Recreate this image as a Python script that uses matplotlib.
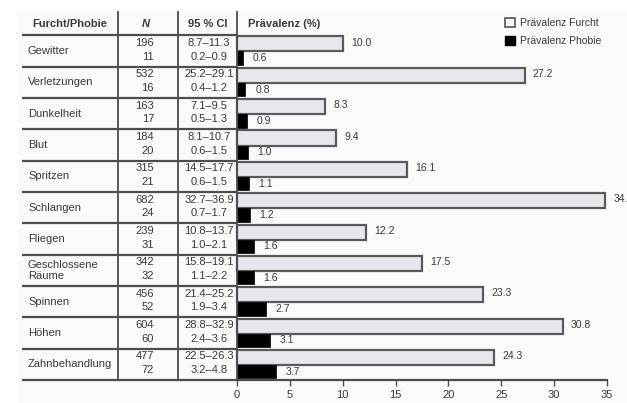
import matplotlib.pyplot as plt
from matplotlib.patches import Patch, Rectangle

# Prevalence of fears and phobias, with sample sizes and confidence intervals
categories = ['Gewitter', 'Verletzungen', 'Dunkelheit', 'Blut', 'Spritzen',
              'Schlangen', 'Fliegen', 'Geschlossene\nRäume', 'Spinnen',
              'Höhen', 'Zahnbehandlung']
n_fear = [196, 532, 163, 184, 315, 682, 239, 342, 456, 604, 477]
n_phobia = [11, 16, 17, 20, 21, 24, 31, 32, 52, 60, 72]
ci_fear = ['8.7–11.3', '25.2–29.1', '7.1–9.5', '8.1–10.7', '14.5–17.7',
           '32.7–36.9', '10.8–13.7', '15.8–19.1', '21.4–25.2', '28.8–32.9',
           '22.5–26.3']
ci_phobia = ['0.2–0.9', '0.4–1.2', '0.5–1.3', '0.6–1.5', '0.6–1.5',
             '0.7–1.7', '1.0–2.1', '1.1–2.2', '1.9–3.4', '2.4–3.6', '3.2–4.8']
prev_fear = [10.0, 27.2, 8.3, 9.4, 16.1, 34.8, 12.2, 17.5, 23.3, 30.8, 24.3]
prev_phobia = [0.6, 0.8, 0.9, 1.0, 1.1, 1.2, 1.6, 1.6, 2.7, 3.1, 3.7]
xticks = [0, 5, 10, 15, 20, 25, 30, 35]

plt.rcParams['font.family'] = ['Liberation Sans', 'DejaVu Sans']
TXT = '#3a3a3a'
LINE = '#4d4d4d'
FS = 8

W, H = 627, 403
fig = plt.figure(figsize=(W / 100, H / 100), dpi=100, facecolor='white')

# faint paper tone behind the content
fig.patches.append(Rectangle((17 / W, 0), 1, 1 - 10 / H, transform=fig.transFigure,
                             facecolor='#fafaf8', edgecolor='none', zorder=-10))

y_top_px, y_bot_px = 12, 380
header_h = -0.74
nrows = len(categories)
ax_bottom = (H - y_bot_px) / H
ax_height = (y_bot_px - y_top_px) / H

# table part on the left, x in pixel units
tab = fig.add_axes([22 / W, ax_bottom, (237 - 22) / W, ax_height])
tab.set_xlim(22, 237)
tab.set_ylim(nrows, header_h)
tab.axis('off')
tab.patch.set_alpha(0)

for b in range(nrows + 1):
    tab.plot([22, 237], [b, b], color=LINE, lw=1.6, solid_capstyle='butt', clip_on=False)
for xv in (118, 178):
    tab.plot([xv, xv], [header_h, nrows], color=LINE, lw=1.3, clip_on=False)

tab.text(70, header_h / 2, 'Furcht/Phobie', ha='center', va='center',
         fontsize=FS, fontweight='bold', color=TXT)
tab.text(146, header_h / 2, 'N', ha='center', va='center',
         fontsize=FS, fontweight='bold', style='italic', color=TXT)
tab.text(208, header_h / 2, '95 % CI', ha='center', va='center',
         fontsize=FS, fontweight='bold', color=TXT)

for i, name in enumerate(categories):
    tab.text(28, i + 0.5, name, ha='left', va='center', fontsize=FS,
             color=TXT, linespacing=1.1)
    tab.text(154, i + 0.25, str(n_fear[i]), ha='right', va='center', fontsize=FS, color=TXT)
    tab.text(154, i + 0.68, str(n_phobia[i]), ha='right', va='center', fontsize=FS, color=TXT)
    tab.text(209, i + 0.25, ci_fear[i], ha='center', va='center', fontsize=FS, color=TXT)
    tab.text(209, i + 0.68, ci_phobia[i], ha='center', va='center', fontsize=FS, color=TXT)

# bar part on the right
ax = fig.add_axes([237 / W, ax_bottom, (607 - 237) / W, ax_height])
ax.patch.set_alpha(0)
ax.set_xlim(0, 35)
ax.set_ylim(nrows, header_h)

rows = list(range(nrows))
fear_y = [r + 0.28 for r in rows]
phob_y = [r + 0.735 for r in rows]
ax.barh(fear_y, prev_fear, height=0.48, color='#e6e8ee', edgecolor='#5a5a5a',
        linewidth=1.6, clip_on=False)
ax.barh(phob_y, prev_phobia, height=0.43, color='black', edgecolor='black',
        linewidth=0.5)

for y, v in zip(fear_y, prev_fear):
    ax.annotate(f'{v:.1f}', (v, y), xytext=(6, 1), textcoords='offset points',
                ha='left', va='center', fontsize=FS - 0.5, color=TXT,
                annotation_clip=False)
for y, v in zip(phob_y, prev_phobia):
    ax.annotate(f'{v:.1f}', (v, y), xytext=(7, 0), textcoords='offset points',
                ha='left', va='center', fontsize=FS - 0.5, color=TXT,
                annotation_clip=False)

ax.text(1.0, header_h / 2, 'Prävalenz (%)', ha='left', va='center',
        fontsize=FS, fontweight='bold', color=TXT)

for side in ('top', 'right'):
    ax.spines[side].set_visible(False)
ax.spines['left'].set_color(LINE)
ax.spines['left'].set_linewidth(1.3)
ax.spines['bottom'].set_color(LINE)
ax.spines['bottom'].set_linewidth(1.6)
ax.set_yticks([])
ax.set_xticks(xticks)
ax.tick_params(axis='x', direction='out', length=4, width=1, color=LINE,
               labelsize=FS, labelcolor=TXT, pad=3)

handles = [Patch(facecolor='#f4f4f4', edgecolor='#555555', linewidth=1.2,
                 label='Prävalenz Furcht'),
           Patch(facecolor='black', edgecolor='black', label='Prävalenz Phobie')]
fig.legend(handles=handles, loc='upper left', bbox_to_anchor=(500 / W, 1 - 13 / H),
           frameon=False, fontsize=FS - 0.5, handlelength=0.9, handleheight=0.9,
           handletextpad=0.55, labelspacing=0.75, labelcolor=TXT, borderpad=0)

fig.savefig('out.png', dpi=100, facecolor=fig.get_facecolor())
